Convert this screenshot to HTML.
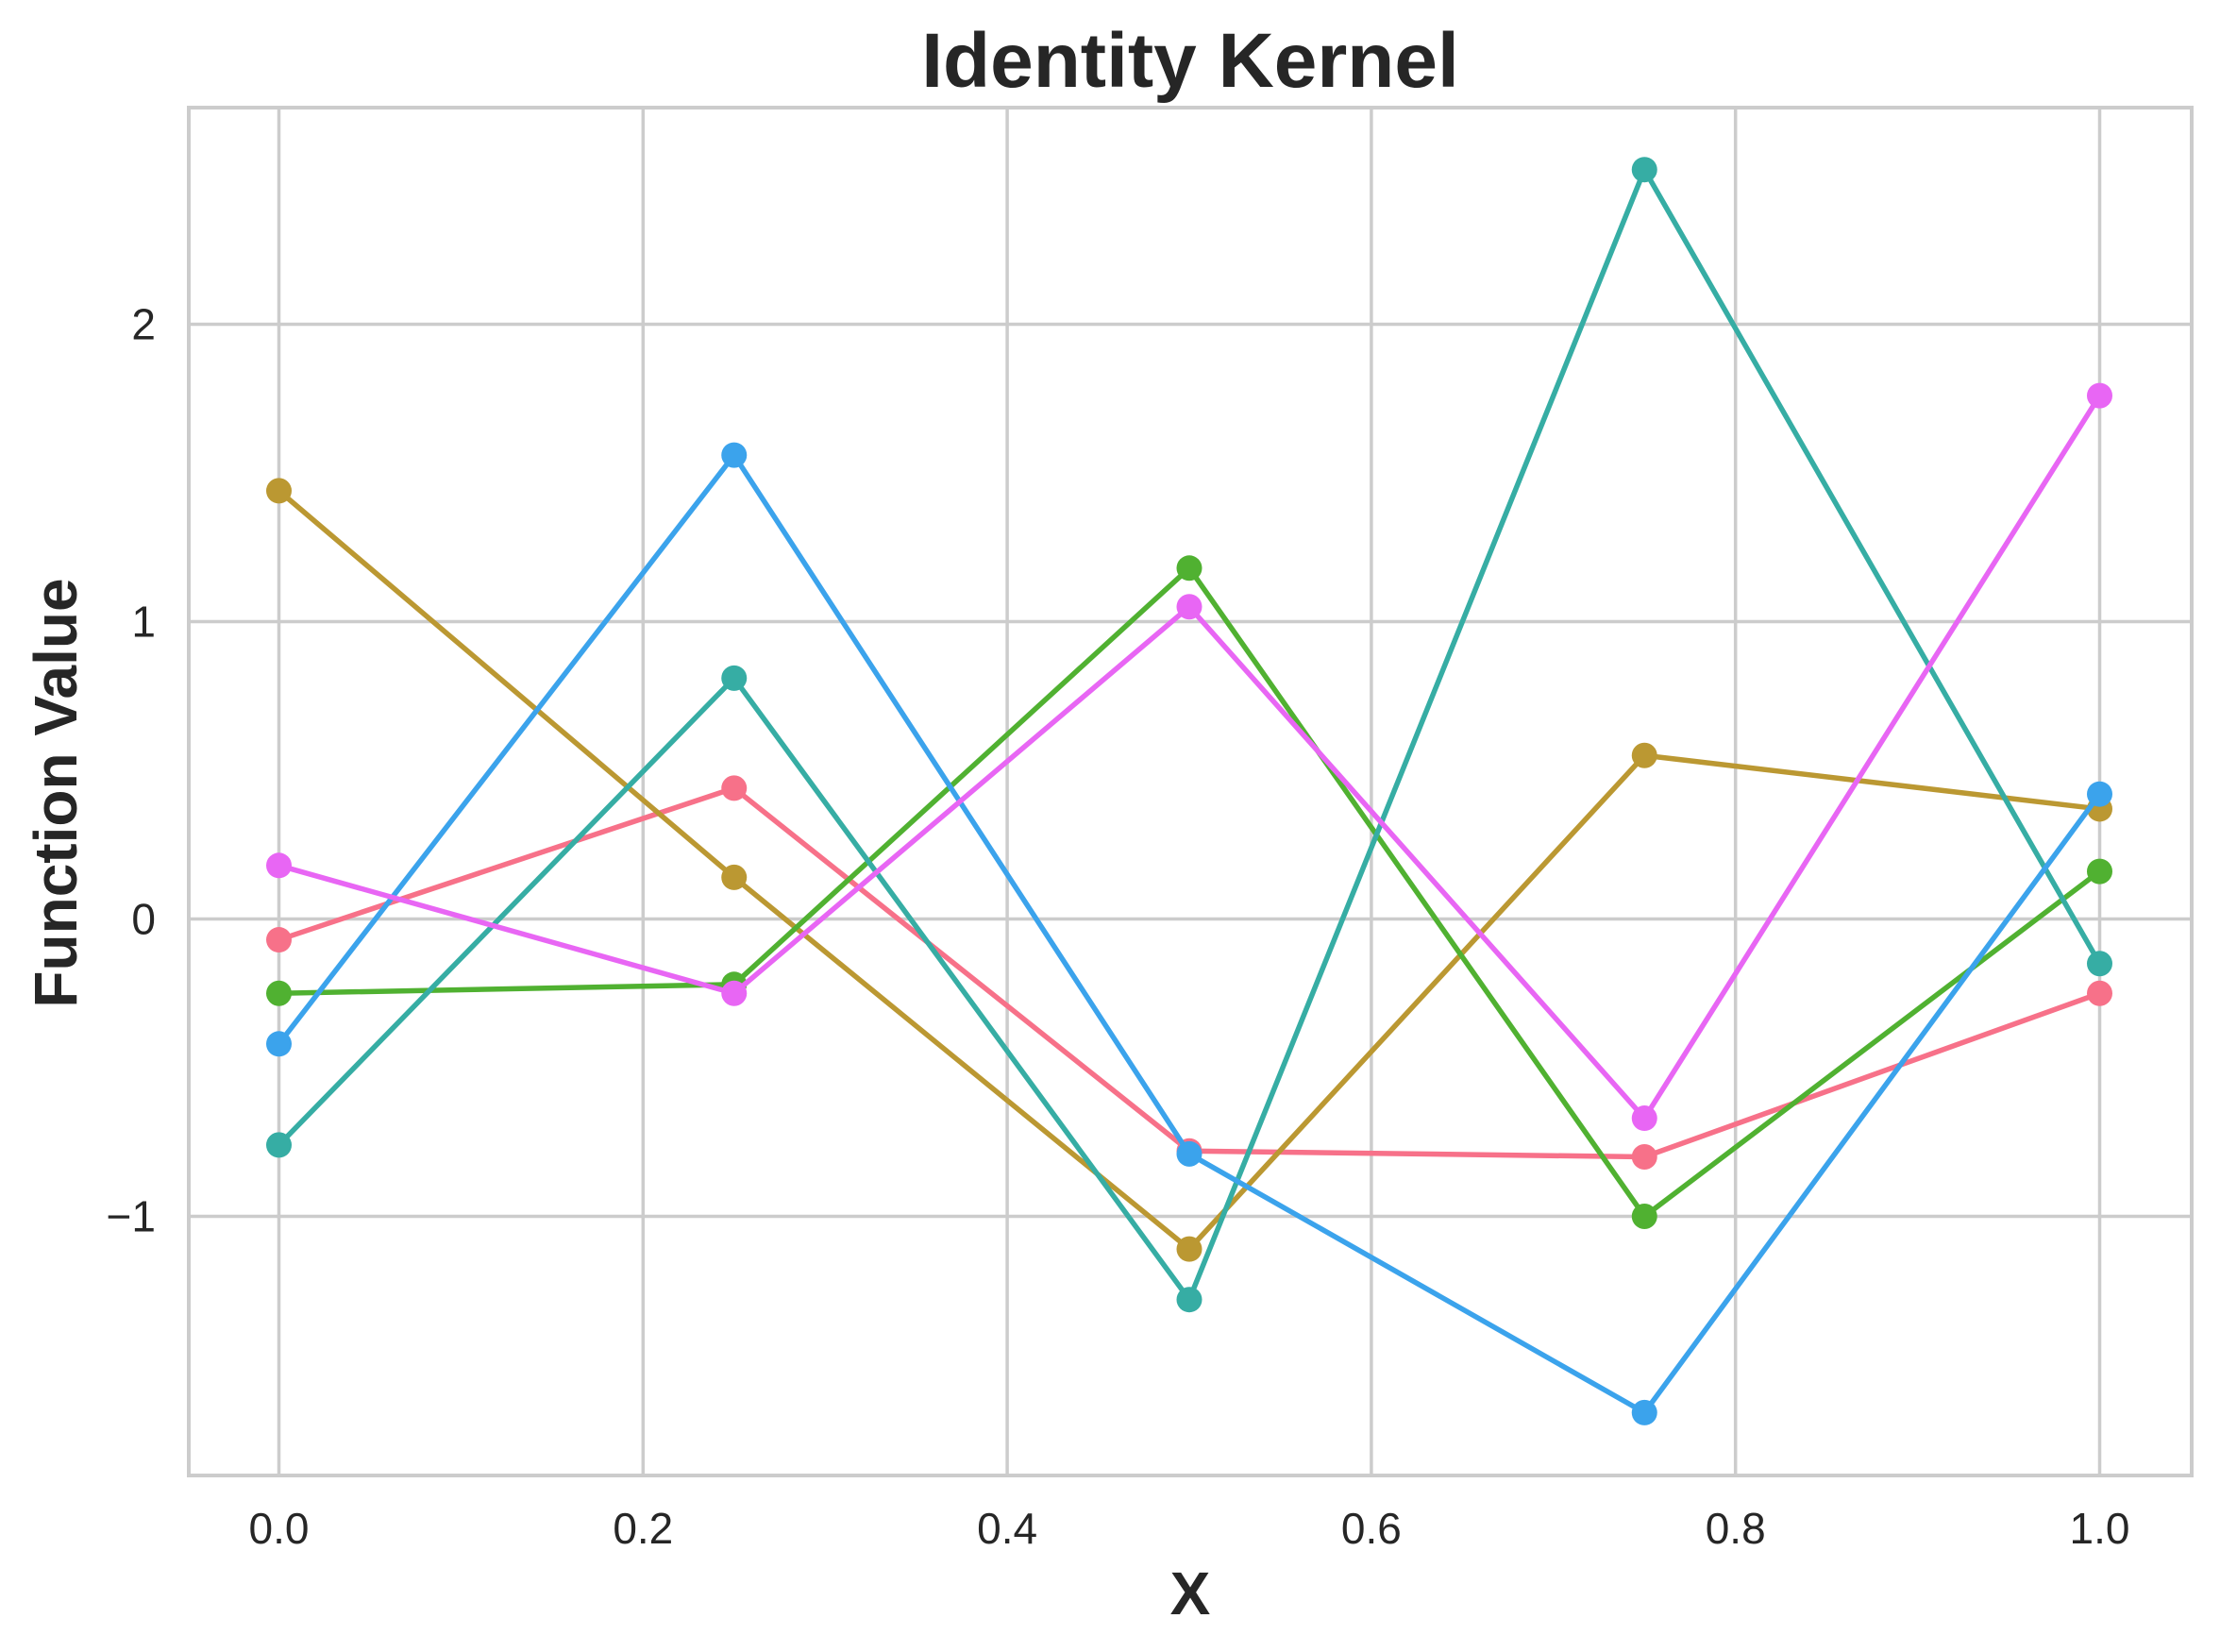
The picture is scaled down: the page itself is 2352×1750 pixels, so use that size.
<!DOCTYPE html>
<html><head><meta charset="utf-8"><style>
html,body{margin:0;padding:0;background:#fff;}
svg{display:block;font-family:"Liberation Sans",Arial,sans-serif;}
</style></head><body>
<svg id="chart" width="2352" height="1750" viewBox="0 0 2352 1750" xmlns="http://www.w3.org/2000/svg">
<rect width="2352" height="1750" fill="#fff"/>
<g id="grid"></g>
<g id="series"></g>
<rect x="200" y="114" width="2122" height="1449" fill="none" stroke="#cccccc" stroke-width="4"/>
<g id="ticks"></g>
<text x="1261" y="92" text-anchor="middle" font-size="82" font-weight="bold" fill="#262626">Identity Kernel</text>
<text x="1261" y="1710" text-anchor="middle" font-size="64" font-weight="bold" fill="#262626">X</text>
<text transform="translate(81,840) rotate(-90)" text-anchor="middle" font-size="64" font-weight="bold" fill="#262626">Function Value</text>
</svg>
<script>
const xValues = [0, 0.25, 0.5, 0.75, 1.0];
const xTicks = [0, 0.2, 0.4, 0.6, 0.8, 1.0];
const xTickLabels = ["0.0","0.2","0.4","0.6","0.8","1.0"];
const yTicks = [-1, 0, 1, 2];
const yTickLabels = ["\u22121","0","1","2"];
const seriesColors = ["#f77189","#bb9832","#50b131","#36ada4","#3ba3ec","#e866f4"];
const series1 = [-0.07, 0.44, -0.78, -0.80, -0.25];
const series2 = [1.44, 0.14, -1.11, 0.55, 0.37];
const series3 = [-0.25, -0.22, 1.18, -1.00, 0.16];
const series4 = [-0.76, 0.81, -1.28, 2.52, -0.15];
const series5 = [-0.42, 1.56, -0.79, -1.66, 0.42];
const series6 = [0.18, -0.25, 1.05, -0.67, 1.76];
const allSeries = [series1, series2, series3, series4, series5, series6];

const NS = "http://www.w3.org/2000/svg";
function xs(v){ return 295.5 + v * 1929; }
function ys(v){ return 973.5 - v * 315; }
const grid = document.getElementById('grid');
const ticks = document.getElementById('ticks');
const ser = document.getElementById('series');
function mk(tag, attrs, parent){ const e=document.createElementNS(NS,tag); for(const k in attrs) e.setAttribute(k,attrs[k]); parent.appendChild(e); return e; }

xTicks.forEach((t,i)=>{
  const l = mk('line',{x1:xs(t),x2:xs(t),y1:114,y2:1563,stroke:'#cccccc','stroke-width':3.5},grid);
  
  
  const tx = mk('text',{x:xs(t),y:1635,'text-anchor':'middle','font-size':46,fill:'#262626'},ticks);
  tx.textContent = xTickLabels[i];
  
  
});
yTicks.forEach((t,i)=>{
  const l = mk('line',{x1:200,x2:2322,y1:ys(t),y2:ys(t),stroke:'#cccccc','stroke-width':3.5},grid);
  
  
  const tx = mk('text',{x:165,y:ys(t)+16,'text-anchor':'end','font-size':46,fill:'#262626'},ticks);
  tx.textContent = yTickLabels[i];
  
  
});
allSeries.forEach((s,si)=>{
  const g = mk('g',{},ser);
  
  
  const pts = s.map((v,i)=>xs(xValues[i])+','+ys(v)).join(' ');
  const pl = mk('polyline',{points:pts,fill:'none',stroke:seriesColors[si],'stroke-width':5.5,'stroke-linejoin':'round'},g);
  
  
  s.forEach((v,i)=>{
    const c = mk('circle',{cx:xs(xValues[i]),cy:ys(v),r:13.5,fill:seriesColors[si]},g);
    
    
  });
});
</script>
</body></html>
